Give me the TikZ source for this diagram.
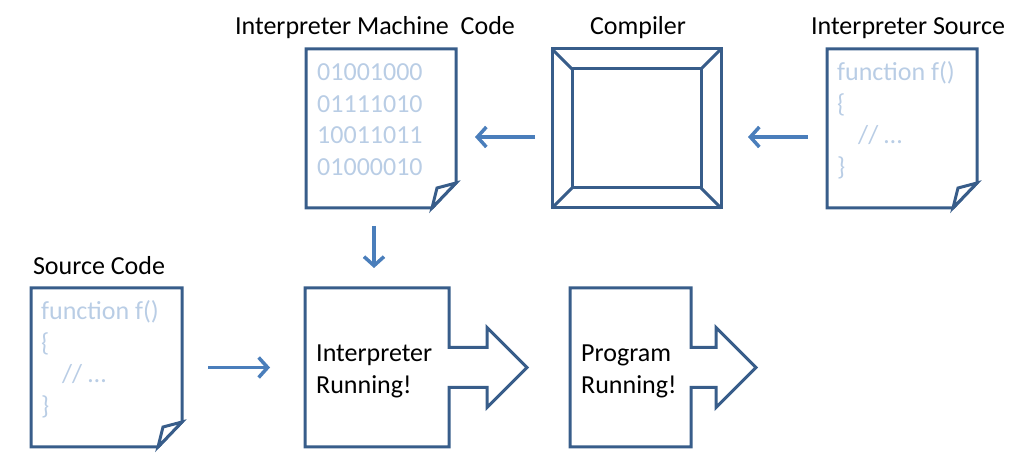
\documentclass[tikz,border=0pt]{standalone}
\usepackage{fontspec}
\setmainfont{Carlito}
\usetikzlibrary{positioning,arrows.meta,calc}
\definecolor{lineC}{RGB}{56,93,138}
\definecolor{arrowC}{RGB}{74,126,187}
\definecolor{codeC}{RGB}{185,205,229}

\begin{document}
\begin{tikzpicture}[x=1pt, y=1pt,
  font=\fontsize{26}{31.5}\selectfont,
  blk/.style={draw=none, outer sep=0pt, inner sep=0pt, minimum height=159pt},
  doc/.style={blk, minimum width=150pt},
  runtxt/.style={anchor=west, inner sep=0pt, align=left},
  code/.style={anchor=north west, inner sep=0pt, align=left, color=codeC},
  outl/.style={draw=lineC, line width=3pt, line join=miter},
  lbl/.style={anchor=base},
  arr/.style={-{Straight Barb[length=9pt, width=20pt]}, line width=3.5pt, color=arrowC},
]

\useasboundingbox (0,0) rectangle (1024,465);

% ---------- top row ----------
\node[doc] (mcode) at (381,336.5) {};
\node[blk, minimum width=169pt, right=96pt of mcode] (comp) {};
\node[doc, right=106pt of comp] (isrc) {};

% ---------- bottom row ----------
\node[blk, minimum width=144pt] (interp) at (377,97.5) {};
\node[doc, minimum width=151pt, left=123pt of interp] (src) {};
\node[blk, minimum width=121pt, right=121pt of interp] (prog) {};

% documents with folded corner
\foreach \d in {mcode,isrc,src}{
  \draw[outl] (\d.north west) -- (\d.north east) -- ([yshift=25pt]\d.south east)
      -- ([xshift=-24pt]\d.south east) -- (\d.south west) -- cycle;
  \draw[outl, fill=white] ([yshift=25pt]\d.south east) -- ([shift={(-19pt,20pt)}]\d.south east)
      -- ([xshift=-24pt]\d.south east) -- cycle;
}

% compiler frame
\draw[outl] (comp.north west) rectangle (comp.south east);
\draw[outl] ([shift={(20pt,-20pt)}]comp.north west) rectangle ([shift={(-20pt,20pt)}]comp.south east);
\foreach \a/\dx/\dy in {north west/20/-20, north east/-20/-20, south east/-20/20, south west/20/20}
  \draw[outl] (comp.\a) -- ++(\dx,\dy);

% running boxes with block arrow
\foreach \b/\h in {interp/38, prog/25}{
  \draw[outl] (\b.north west) -- (\b.north east) -- ([yshift=20pt]\b.east) -- ++(\h,0)
      -- ++(0,20) -- ++(40,-40) -- ++(-40,-40) -- ++(0,20) -- ([yshift=-20pt]\b.east)
      -- (\b.south east) -- (\b.south west) -- cycle;
}
\node[runtxt] (interptxt) at ([shift={(11pt,-4pt)}]interp.west) {Interpreter\\Running!};
\node[runtxt] (progtxt) at ([shift={(11pt,-4pt)}]prog.west) {Program\\Running!};

% code inside documents
\node[code] (mcodetxt) at ([shift={(11pt,-9.5pt)}]mcode.north west)
  {\strut 01001000\\01111010\\10011011\\01000010};
\node[code] (isrctxt) at ([shift={(10pt,-9.5pt)}]isrc.north west)
  {\strut function f()\\\{\\\hspace*{21pt}// …\\\}};
\node[code] (srctxt) at ([shift={(10pt,-9.5pt)}]src.north west)
  {\strut function f()\\\{\\\hspace*{21pt}// …\\\}};

% labels
\node[lbl] (mcodelbl) at ([shift={(-6pt,14pt)}]mcode.north) {Interpreter Machine\ \ Code};
\node[lbl] (complbl) at ([shift={(1.5pt,14pt)}]comp.north) {Compiler};
\node[lbl] (isrclbl) at ([shift={(6pt,14pt)}]isrc.north) {Interpreter Source};
\node[lbl] (srclbl) at ([shift={(-7.5pt,13pt)}]src.north) {Source Code};

% flow arrows
\draw[arr, shorten <=17pt, shorten >=19pt] ([yshift=-8.5pt]comp.west) -- ([yshift=-8.5pt]mcode.east);
\draw[arr, shorten <=19pt, shorten >=27pt] ([yshift=-8.5pt]isrc.west) -- ([yshift=-8.5pt]comp.east);
\draw[arr, shorten <=18pt, shorten >=20pt] ([xshift=-7pt]mcode.south) -- ([xshift=-7pt]mcode.south |- interp.north);
\draw[arr, shorten <=26pt, shorten >=35pt] (src.east) -- (interp.west);

\end{tikzpicture}
\end{document}
